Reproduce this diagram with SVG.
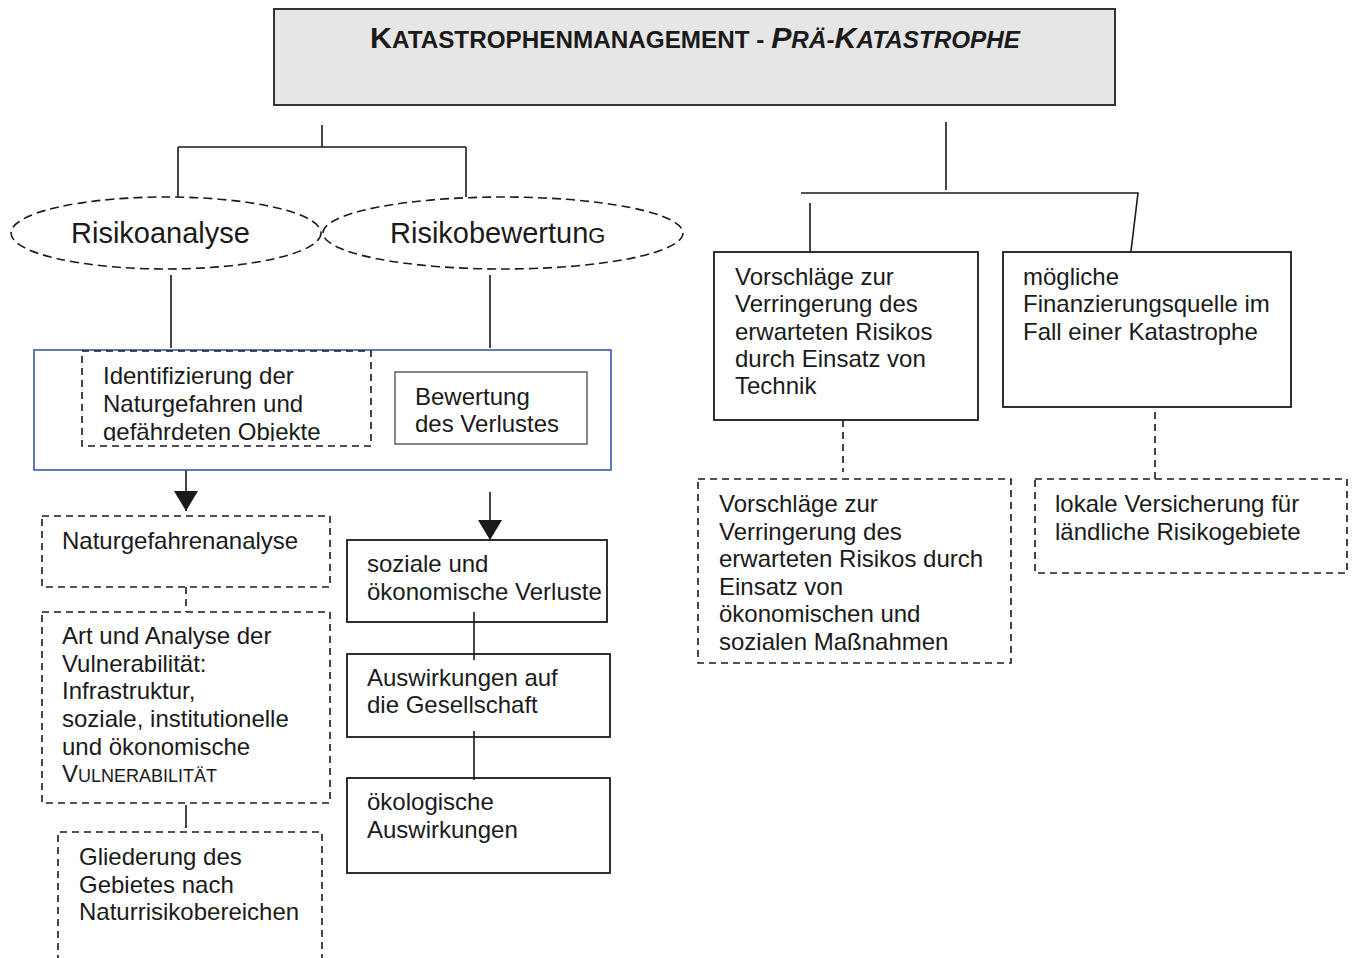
<svg xmlns="http://www.w3.org/2000/svg" width="1355" height="958" viewBox="0 0 1355 958">
  <style>
    .t { font-family: "Liberation Sans", Arial, sans-serif; font-size: 24px; fill: #1a1a1a; }
    .big { font-size: 29px; }
    .sc { font-size: 18px; }
    .box { fill: #ffffff; stroke: #1a1a1a; stroke-width: 1.8; }
    .dbox { fill: #ffffff; stroke: #1a1a1a; stroke-width: 1.6; stroke-dasharray: 7 5; }
    .ell { fill: #ffffff; stroke: #1a1a1a; stroke-width: 1.6; stroke-dasharray: 9 5; }
    .ln { fill: none; stroke: #1a1a1a; stroke-width: 1.6; }
    .dln { fill: none; stroke: #1a1a1a; stroke-width: 1.6; stroke-dasharray: 7 5; }
  </style>
  <defs>
    <!-- filled triangular arrowhead, tip at the path end -->
    <marker id="arrow" viewBox="0 0 20 24" markerWidth="20" markerHeight="24" refX="20" refY="12" orient="auto" markerUnits="userSpaceOnUse">
      <path d="M0,0 L20,12 L0,24 Z" fill="#1a1a1a"/>
    </marker>
    <clipPath id="clipIdent">
      <rect x="82" y="351" width="290" height="90"/>
    </clipPath>
  </defs>

  <rect width="1355" height="958" fill="#ffffff"/>

  <!-- connectors -->
  <g id="connectors">
    <path class="ln" d="M322,125 V147 M178,147 H466 M178,147 V197 M466,147 V197"/>
    <path class="ln" d="M171,275 V348 M490,275 V348"/>
    <path class="ln" d="M186,470 V511" marker-end="url(#arrow)"/>
    <path class="ln" d="M490,492 V540" marker-end="url(#arrow)"/>
    <path class="dln" d="M186,587 V612"/>
    <path class="ln" d="M186,805 V828"/>
    <path class="ln" d="M946,122 V190 M801,193 H1138 L1131,251 M810,203 V251"/>
    <path class="dln" d="M843,420 V472"/>
    <path class="dln" d="M1155,412 V487"/>
  </g>

  <!-- title -->
  <g id="title">
    <rect x="274" y="9" width="841" height="96" fill="#e6e6e6" stroke="#333333" stroke-width="2"/>
    <text class="t" x="370" y="48" font-weight="bold" textLength="650" lengthAdjust="spacingAndGlyphs"><tspan font-size="30">K</tspan><tspan font-size="24">ATASTROPHENMANAGEMENT - </tspan><tspan font-style="italic" font-size="30">P</tspan><tspan font-style="italic" font-size="24">RÄ-</tspan><tspan font-style="italic" font-size="30">K</tspan><tspan font-style="italic" font-size="24">ATASTROPHE</tspan></text>
  </g>

  <!-- ellipses -->
  <g id="risikoanalyse">
    <ellipse class="ell" cx="166" cy="233" rx="155" ry="36"/>
    <text class="t big" x="71" y="243">Risikoanalyse</text>
  </g>
  <g id="risikobewertung">
    <ellipse class="ell" cx="503" cy="233" rx="180" ry="36"/>
    <text class="t big" x="390" y="243">Risikobewertun<tspan font-size="22">G</tspan></text>
  </g>

  <!-- blue container -->
  <g id="analyse-container">
    <rect x="34" y="350" width="577" height="120" fill="#ffffff" stroke="#3a5aa8" stroke-width="1.6"/>
  </g>
  <g id="identifizierung">
    <rect class="dbox" x="82" y="351" width="289" height="95"/>
    <g clip-path="url(#clipIdent)">
      <text class="t" x="103" y="384">Identifizierung der</text>
      <text class="t" x="103" y="412">Naturgefahren und</text>
      <text class="t" x="103" y="440">gefährdeten Objekte</text>
    </g>
  </g>
  <g id="bewertung">
    <rect x="395" y="372" width="192" height="72" fill="#ffffff" stroke="#555555" stroke-width="1.4"/>
    <text class="t" x="415" y="405">Bewertung</text>
    <text class="t" x="415" y="432">des Verlustes</text>
  </g>

  <!-- left column -->
  <g id="naturgefahrenanalyse">
    <rect class="dbox" x="42" y="516" width="288" height="71"/>
    <text class="t" x="62" y="549">Naturgefahrenanalyse</text>
  </g>
  <g id="vulnerabilitaet">
    <rect class="dbox" x="42" y="612" width="288" height="191"/>
    <text class="t" x="62" y="644">Art und Analyse der</text>
    <text class="t" x="62" y="672">Vulnerabilität:</text>
    <text class="t" x="62" y="699">Infrastruktur,</text>
    <text class="t" x="62" y="727">soziale, institutionelle</text>
    <text class="t" x="62" y="755">und ökonomische</text>
    <text class="t" x="62" y="782">V<tspan class="sc">ULNERABILITÄT</tspan></text>
  </g>
  <g id="gliederung">
    <path class="dbox" d="M58,962 V832 H322 V962"/>
    <text class="t" x="79" y="865">Gliederung des</text>
    <text class="t" x="79" y="893">Gebietes nach</text>
    <text class="t" x="79" y="920">Naturrisikobereichen</text>
  </g>

  <!-- loss column -->
  <g id="verluste">
    <rect class="box" x="347" y="540" width="260" height="82"/>
    <text class="t" x="367" y="572">soziale und</text>
    <text class="t" x="367" y="600">ökonomische Verluste</text>
  </g>
  <g id="gesellschaft">
    <rect class="box" x="347" y="654" width="263" height="83"/>
    <text class="t" x="367" y="686">Auswirkungen auf</text>
    <text class="t" x="367" y="713">die Gesellschaft</text>
  </g>
  <g id="oekologisch">
    <rect class="box" x="347" y="778" width="263" height="95"/>
    <text class="t" x="367" y="810">ökologische</text>
    <text class="t" x="367" y="838">Auswirkungen</text>
  </g>
  <g id="loss-links">
    <path class="ln" d="M474,612 V660 M474,731 V780"/>
  </g>

  <!-- right branch -->
  <g id="technik">
    <rect class="box" x="714" y="252" width="264" height="168"/>
    <text class="t" x="735" y="285">Vorschläge zur</text>
    <text class="t" x="735" y="312">Verringerung des</text>
    <text class="t" x="735" y="340">erwarteten Risikos</text>
    <text class="t" x="735" y="367">durch Einsatz von</text>
    <text class="t" x="735" y="394">Technik</text>
  </g>
  <g id="finanzierung">
    <rect class="box" x="1003" y="252" width="288" height="155"/>
    <text class="t" x="1023" y="285">mögliche</text>
    <text class="t" x="1023" y="312">Finanzierungsquelle im</text>
    <text class="t" x="1023" y="340">Fall einer Katastrophe</text>
  </g>
  <g id="massnahmen">
    <rect class="dbox" x="698" y="479" width="313" height="184"/>
    <text class="t" x="719" y="512">Vorschläge zur</text>
    <text class="t" x="719" y="540">Verringerung des</text>
    <text class="t" x="719" y="567">erwarteten Risikos durch</text>
    <text class="t" x="719" y="595">Einsatz von</text>
    <text class="t" x="719" y="622">ökonomischen und</text>
    <text class="t" x="719" y="650">sozialen Maßnahmen</text>
  </g>
  <g id="versicherung">
    <rect class="dbox" x="1035" y="479" width="312" height="94"/>
    <text class="t" x="1055" y="512">lokale Versicherung für</text>
    <text class="t" x="1055" y="540">ländliche Risikogebiete</text>
  </g>
</svg>
